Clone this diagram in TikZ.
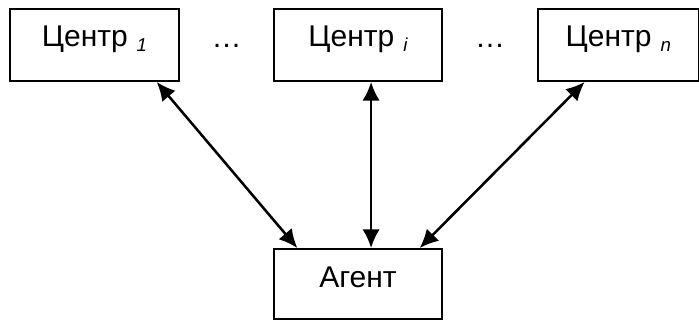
\documentclass[tikz,border=0pt]{standalone}
\usepackage{fontspec}
\setmainfont{Liberation Sans}
\usetikzlibrary{arrows.meta,calc}
% lowered italic index after a centre's name
\newcommand\centreidx[1]{\hspace{0.3em}\raisebox{-4pt}{\fontsize{14}{16}\selectfont\itshape #1}}

\begin{document}
\begin{tikzpicture}[x=0.75pt,y=-0.75pt,
  box/.style={draw,line width=1.4pt,inner sep=0pt,minimum height=54pt,
    font=\fontsize{22.5}{26}\selectfont,text height=15pt,text depth=13pt},
  link/.style={line width=1.9pt,
    {Latex[length=14pt,width=13pt]}-{Latex[length=14pt,width=13pt]}},
  gap/.style={font=\fontsize{22.5}{26}\selectfont,inner sep=0pt}]
\useasboundingbox (0,0) rectangle (699,320);

% centres
\node[box,minimum width=126.75pt] (c1) at (94.5,45) {Центр\centreidx{1}};
\node[box,minimum width=126pt]    (ci) at (358,45)  {Центр\centreidx{i}};
\node[box,minimum width=120.4pt]  (cn) at (618.25,45) {Центр\centreidx{n}};

% ellipses between centres
\node[gap,anchor=base] (d1) at (226.5,48) {…};
\node[gap,anchor=base] (d2) at (490,48) {…};

% agent
\node[box,minimum width=126pt,minimum height=52.5pt,text depth=10.5pt] (ag) at (358,284) {Агент};

% links
\draw[link] ($(c1.south west)!0.864!(c1.south east)$) -- ($(ag.north west)!0.143!(ag.north east)$);
\draw[link] ($(ci.south west)!0.577!(ci.south east)$) -- ($(ag.north west)!0.577!(ag.north east)$);
\draw[link] ($(cn.south west)!0.293!(cn.south east)$) -- ($(ag.north west)!0.863!(ag.north east)$);
\end{tikzpicture}
\end{document}
